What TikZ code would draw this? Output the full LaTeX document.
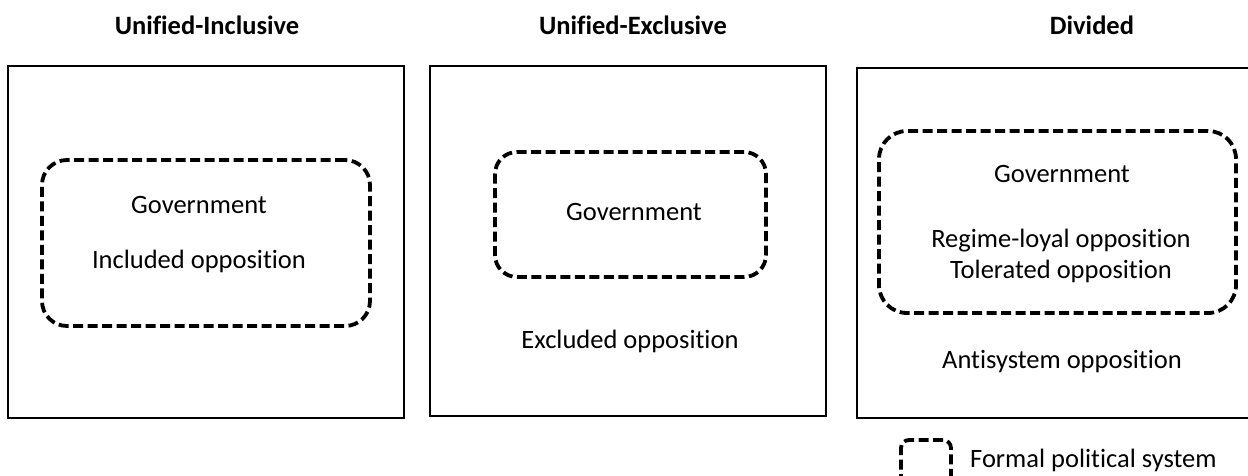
\documentclass[tikz,border=0pt]{standalone}
\usepackage{fontspec}
\setmainfont[Ligatures={NoCommon,NoContextual}]{Carlito}
\begin{document}
\begin{tikzpicture}[x=1pt,y=-1pt,
  frame/.style={draw, line width=2.8pt, inner sep=0pt},
  formal/.style={draw, line width=3.8pt, dash pattern=on 10pt off 4.5pt, inner sep=0pt},
  label/.style={anchor=base, inner sep=0pt, font=\fontsize{26.5}{30}\selectfont},
  title/.style={anchor=base, inner sep=0pt, font=\fontsize{26.5}{30}\selectfont\bfseries}]
\clip (0,0) rectangle (1248,475);
\useasboundingbox (0,0) rectangle (1248,475);

% column titles
\node[title] (t1) at (207,34) {Unified-Inclusive};
\node[title] (t2) at (633,34) {Unified-Exclusive};
\node[title] (t3) at (1092,34) {Divided};

% unified-inclusive
\node[frame, minimum width=396pt, minimum height=352pt] (b1) at (206,242) {};
\node[formal, rounded corners=25pt, minimum width=328pt, minimum height=166pt] (f1) at (206,243) {};
\node[label] (g1) at (199,213) {Government};
\node[label] (i1) at (199,268) {Included opposition};

% unified-exclusive
\node[frame, minimum width=396pt, minimum height=350pt] (b2) at (628,241) {};
\node[formal, rounded corners=22pt, minimum width=271pt, minimum height=125pt] (f2) at (630.5,214.5) {};
\node[label] (g2) at (634,220) {Government};
\node[label] (e2) at (630,348) {Excluded opposition};

% divided
\node[frame, minimum width=398pt, minimum height=350pt] (b3) at (1056,243) {};
\node[formal, rounded corners=28pt, minimum width=357pt, minimum height=182pt] (f3) at (1057.5,222) {};
\node[label] (g3) at (1062,182) {Government};
\node[label] (r3) at (1061,247) {Regime-loyal opposition};
\node[label] (o3) at (1061,278) {Tolerated opposition};
\node[label] (a3) at (1062,368) {Antisystem opposition};

% legend
\node[formal, rounded corners=8pt, minimum width=50pt, minimum height=44pt] (lg) at (926,462) {};
\node[label, anchor=base west] (lt) at (970,467) {Formal political system};
\end{tikzpicture}
\end{document}
